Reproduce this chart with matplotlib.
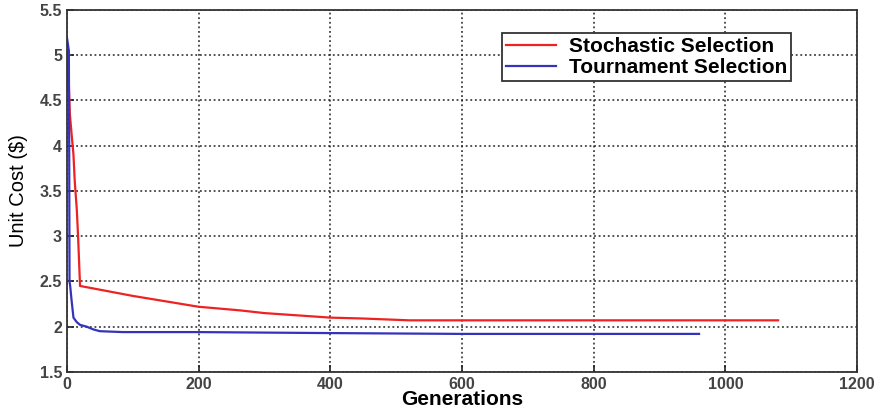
import matplotlib.pyplot as plt

plt.rcParams["font.family"] = ["Liberation Sans", "DejaVu Sans"]

# -----------------------------
# Data
# -----------------------------
stoch_gen = [0, 0, 2, 4.5, 7.5, 10, 12, 15, 17, 20, 100, 200, 263, 300, 400, 450, 520, 600, 800, 1080]
stoch_cost = [4.6, 5.05, 4.9, 4.35, 4.1, 3.9, 3.6, 3.3, 3.0, 2.45, 2.34, 2.22, 2.18, 2.15, 2.1, 2.09, 2.07, 2.07, 2.07, 2.07]

tourn_gen = [0, 2, 3, 3.5, 4, 5, 7, 10, 15, 20, 30, 40, 50, 85, 200, 380, 600, 960]
tourn_cost = [5.2, 5.1, 5.05, 4.0, 2.5, 2.45, 2.3, 2.1, 2.05, 2.02, 2.0, 1.97, 1.95, 1.94, 1.94, 1.93, 1.92, 1.92]

xticks = [0, 200, 400, 600, 800, 1000, 1200]
yticks = [1.5, 2, 2.5, 3, 3.5, 4, 4.5, 5, 5.5]

# -----------------------------
# Plot
# -----------------------------
fig = plt.figure(figsize=(8.8, 4.16), dpi=100)
ax = fig.add_axes([0.076, 0.106, 0.898, 0.870])

ax.plot(stoch_gen, stoch_cost, color="#ee2222", lw=1.6, label="Stochastic Selection")
ax.plot(tourn_gen, tourn_cost, color="#3333bb", lw=1.6, label="Tournament Selection")

ax.set_xlim(0, 1200)
ax.set_ylim(1.5, 5.5)
ax.set_xticks(xticks)
ax.set_yticks(yticks)
ax.set_xticklabels([str(t) for t in xticks])
ax.set_yticklabels([f"{t:g}" for t in yticks])
ax.tick_params(labelsize=11.5, colors="#222222", direction="in", length=5, width=1.2)
for lab in ax.get_xticklabels() + ax.get_yticklabels():
    lab.set_fontweight("bold")
    lab.set_color("#444444")

ax.grid(True, color="#222222", linestyle=(0, (1.2, 1.8)), linewidth=1.1)
for s in ax.spines.values():
    s.set_linewidth(1.3)
    s.set_color("#333333")

ax.set_xlabel("Generations", fontsize=15, fontweight="bold", labelpad=-1)
ax.set_ylabel("Unit Cost ($)", fontsize=14.5, labelpad=8)

leg = ax.legend(loc="upper right", bbox_to_anchor=(0.93, 0.965),
                prop={"weight": "bold", "size": 15}, fancybox=False,
                edgecolor="#333333", framealpha=1, handlelength=2.4,
                borderpad=0.2, labelspacing=0.1, handletextpad=0.6)
leg.get_frame().set_linewidth(1.3)

plt.savefig("out.png", dpi=100)
